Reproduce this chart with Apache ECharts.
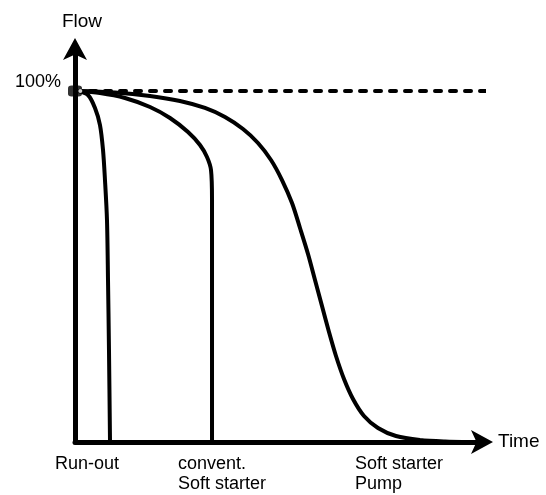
<!DOCTYPE html>
<html>
<head>
<meta charset="utf-8">
<script src="https://cdn.jsdelivr.net/npm/echarts@6/dist/echarts.min.js"></script>
<style>html,body{margin:0;padding:0;background:#fff}#c{width:546px;height:495px}</style>
</head>
<body>
<div id="c"></div>
<script>
// Time (% of axis length), Flow (%)
const runOutX = [0.73, 3.18, 4.89, 6.11, 6.85, 7.33, 7.82, 8.07, 8.31, 8.56];
const runOutY = [100, 98.86, 95.16, 90.31, 83.19, 74.64, 63.25, 46.15, 26.21, 0];
const conventX = [0.73, 6.11, 12.22, 18.34, 23.23, 27.63, 30.56, 32.27, 33.25, 33.50, 33.50, 33.50];
const conventY = [100, 99.43, 98.01, 95.44, 92.31, 88.32, 84.62, 81.20, 77.49, 68.95, 40.46, 0];
const pumpX = [0.73, 9.78, 18.34, 25.67, 31.78, 36.67, 41.08, 44.74, 47.92, 50.61, 53.06, 55.01, 56.97, 58.68, 60.39, 62.10, 63.81, 65.77, 67.97, 70.66, 74.08, 78.48, 84.35, 90.47, 96.58];
const pumpY = [100, 99.57, 98.58, 97.15, 95.16, 92.59, 89.17, 85.19, 80.34, 74.64, 68.09, 60.97, 53.56, 46.15, 38.75, 31.34, 24.50, 17.95, 12.25, 7.41, 3.99, 1.71, 0.57, 0.14, 0];
const fullFlowX = [0, 102.5];
const fullFlowY = [100, 100];
const xLabels = ['Run-out', 'convent.\nSoft starter', 'Soft starter\nPump'];
const yTickLabel = '100%';

const zip = (xs, ys) => xs.map((x, i) => [x, ys[i]]);
const font = "'Liberation Sans', Arial, sans-serif";
const chart = echarts.init(document.getElementById('c'), null, {renderer: 'canvas'});
const lineBase = {type: 'line', symbol: 'none', smooth: 0.3, lineStyle: {color: '#000', width: 4}, silent: true};

chart.setOption({
  backgroundColor: '#fff',
  animation: false,
  grid: {left: 75, right: 62, top: 48, bottom: 53},
  xAxis: {
    type: 'value', min: 0, max: 100,
    name: 'Time', nameLocation: 'end', nameGap: 14,
    nameTextStyle: {color: '#000', fontSize: 19, fontFamily: font, align: 'left', verticalAlign: 'middle'},
    axisLine: {lineStyle: {color: '#000', width: 5}, symbol: ['none', 'arrow'], symbolSize: [18, 22], symbolOffset: [0, 9]},
    axisTick: {show: false}, axisLabel: {show: false}, splitLine: {show: false}
  },
  yAxis: {
    type: 'value', min: 0, max: 112.25, interval: 100,
    name: 'Flow', nameLocation: 'end', nameGap: 17,
    nameTextStyle: {color: '#000', fontSize: 19, fontFamily: font, padding: [0, 0, 0, 14]},
    axisLine: {show: true, lineStyle: {color: '#000', width: 5}, symbol: ['none', 'arrow'], symbolSize: [18, 22], symbolOffset: [0, 10]},
    axisTick: {show: false}, splitLine: {show: false},
    axisLabel: {
      color: '#000', fontSize: 18, fontFamily: font, margin: 14, verticalAlign: 'bottom',
      formatter: v => (v === 100 ? yTickLabel : '')
    }
  },
  graphic: [
    {type: 'text', left: 55, top: 454, style: {text: xLabels[0], font: '18px ' + font, fill: '#000', lineHeight: 20}},
    {type: 'text', left: 178, top: 454, style: {text: xLabels[1], font: '18px ' + font, fill: '#000', lineHeight: 20}},
    {type: 'text', left: 355, top: 454, style: {text: xLabels[2], font: '18px ' + font, fill: '#000', lineHeight: 20}}
  ],
  series: [
    {type: 'line', symbol: 'none', clip: false, data: zip(fullFlowX, fullFlowY), silent: true,
     lineStyle: {color: '#000', width: 4, type: [6, 9], cap: 'round'}, z: 3},
    Object.assign({}, lineBase, {data: zip(runOutX, runOutY)}),
    Object.assign({}, lineBase, {data: zip(conventX, conventY)}),
    Object.assign({}, lineBase, {data: zip(pumpX, pumpY)}),
    {type: 'scatter', data: [[0, 100]], symbol: 'roundRect', symbolSize: [14, 11], clip: false, silent: true,
     itemStyle: {color: '#000'}, z: 5},
    {type: 'scatter', data: [[1.3, 100]], symbol: 'circle', symbolSize: 4, clip: false, silent: true,
     itemStyle: {color: '#fff'}, z: 6}
  ]
});
</script>
</body>
</html>
